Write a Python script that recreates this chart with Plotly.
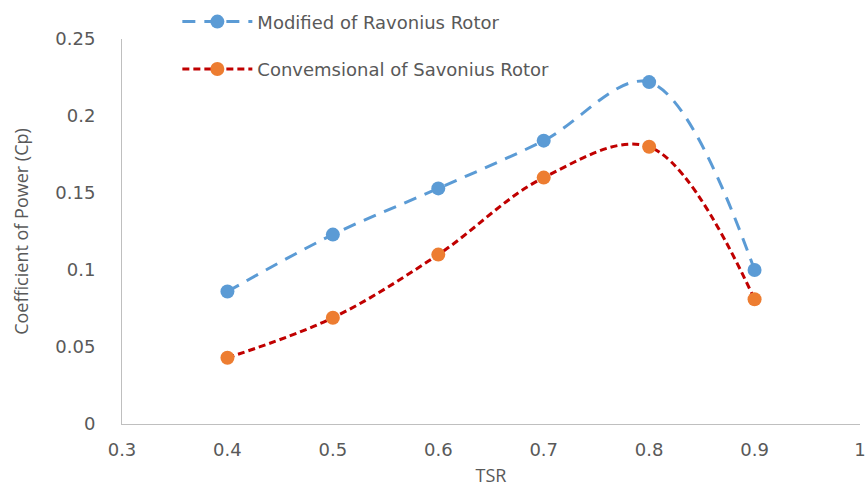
import plotly.graph_objects as go

# Tip speed ratio and power coefficients for the two rotor designs
tsr = [0.4, 0.5, 0.6, 0.7, 0.8, 0.9]
cp_modified = [0.086, 0.123, 0.153, 0.184, 0.222, 0.100]
cp_conventional = [0.043, 0.069, 0.110, 0.160, 0.180, 0.081]

x_ticks = [0.3, 0.4, 0.5, 0.6, 0.7, 0.8, 0.9, 1.0]
x_tick_labels = ["0.3", "0.4", "0.5", "0.6", "0.7", "0.8", "0.9", "1"]
y_ticks = [0, 0.05, 0.1, 0.15, 0.2, 0.25]
y_tick_labels = ["0", "0.05", "0.1", "0.15", "0.2", "0.25"]

FONT = "DejaVu Sans"
TITLE_FONT = "Open Sans"
GREY = "#595959"

fig = go.Figure()
fig.add_trace(go.Scatter(
    x=tsr, y=cp_modified, mode="lines+markers",
    name="Modified of Ravonius Rotor",
    line=dict(color="#5B9BD5", width=3, dash="13px,9px", shape="spline", smoothing=1.0),
    marker=dict(color="#5B9BD5", size=14),
    legendgroup="a",
))
fig.add_trace(go.Scatter(
    x=tsr, y=cp_conventional, mode="lines+markers",
    name="Convemsional of Savonius Rotor",
    line=dict(color="#C00000", width=3, dash="7px,4px", shape="spline", smoothing=1.0),
    marker=dict(color="#ED7D31", size=14),
    legendgroup="b",
))

fig.update_layout(
    width=868, height=487,
    margin=dict(l=122, r=8, t=39, b=63, autoexpand=False),
    paper_bgcolor="white", plot_bgcolor="white",
    font=dict(family=FONT, color=GREY, size=18),
    showlegend=True,
    legend=dict(
        x=0.075, y=0.993, xref="paper", yref="container",
        xanchor="left", yanchor="top",
        bgcolor="rgba(0,0,0,0)",
        font=dict(family=FONT, size=18, color=GREY),
        tracegroupgap=21,
        itemwidth=70,
    ),
    xaxis=dict(
        range=[0.3, 1.0], tickvals=x_ticks, ticktext=x_tick_labels,
        showgrid=False, zeroline=False, showline=True, linecolor="#BFBFBF", linewidth=1,
        ticks="", ticklabelstandoff=9, tickfont=dict(size=18, color=GREY, family=FONT),
        title=dict(text="TSR", font=dict(size=18, color=GREY, family=TITLE_FONT), standoff=30),
    ),
    yaxis=dict(
        range=[0, 0.25], tickvals=y_ticks, ticktext=y_tick_labels,
        showgrid=False, zeroline=False, showline=True, linecolor="#BFBFBF", linewidth=1,
        ticks="", ticklabelstandoff=22, tickfont=dict(size=18, color=GREY, family=FONT),
        title=dict(text="Coefficient of Power (Cp)", font=dict(size=18, color=GREY, family=TITLE_FONT), standoff=22),
    ),
)

fig.write_html("out.html")
